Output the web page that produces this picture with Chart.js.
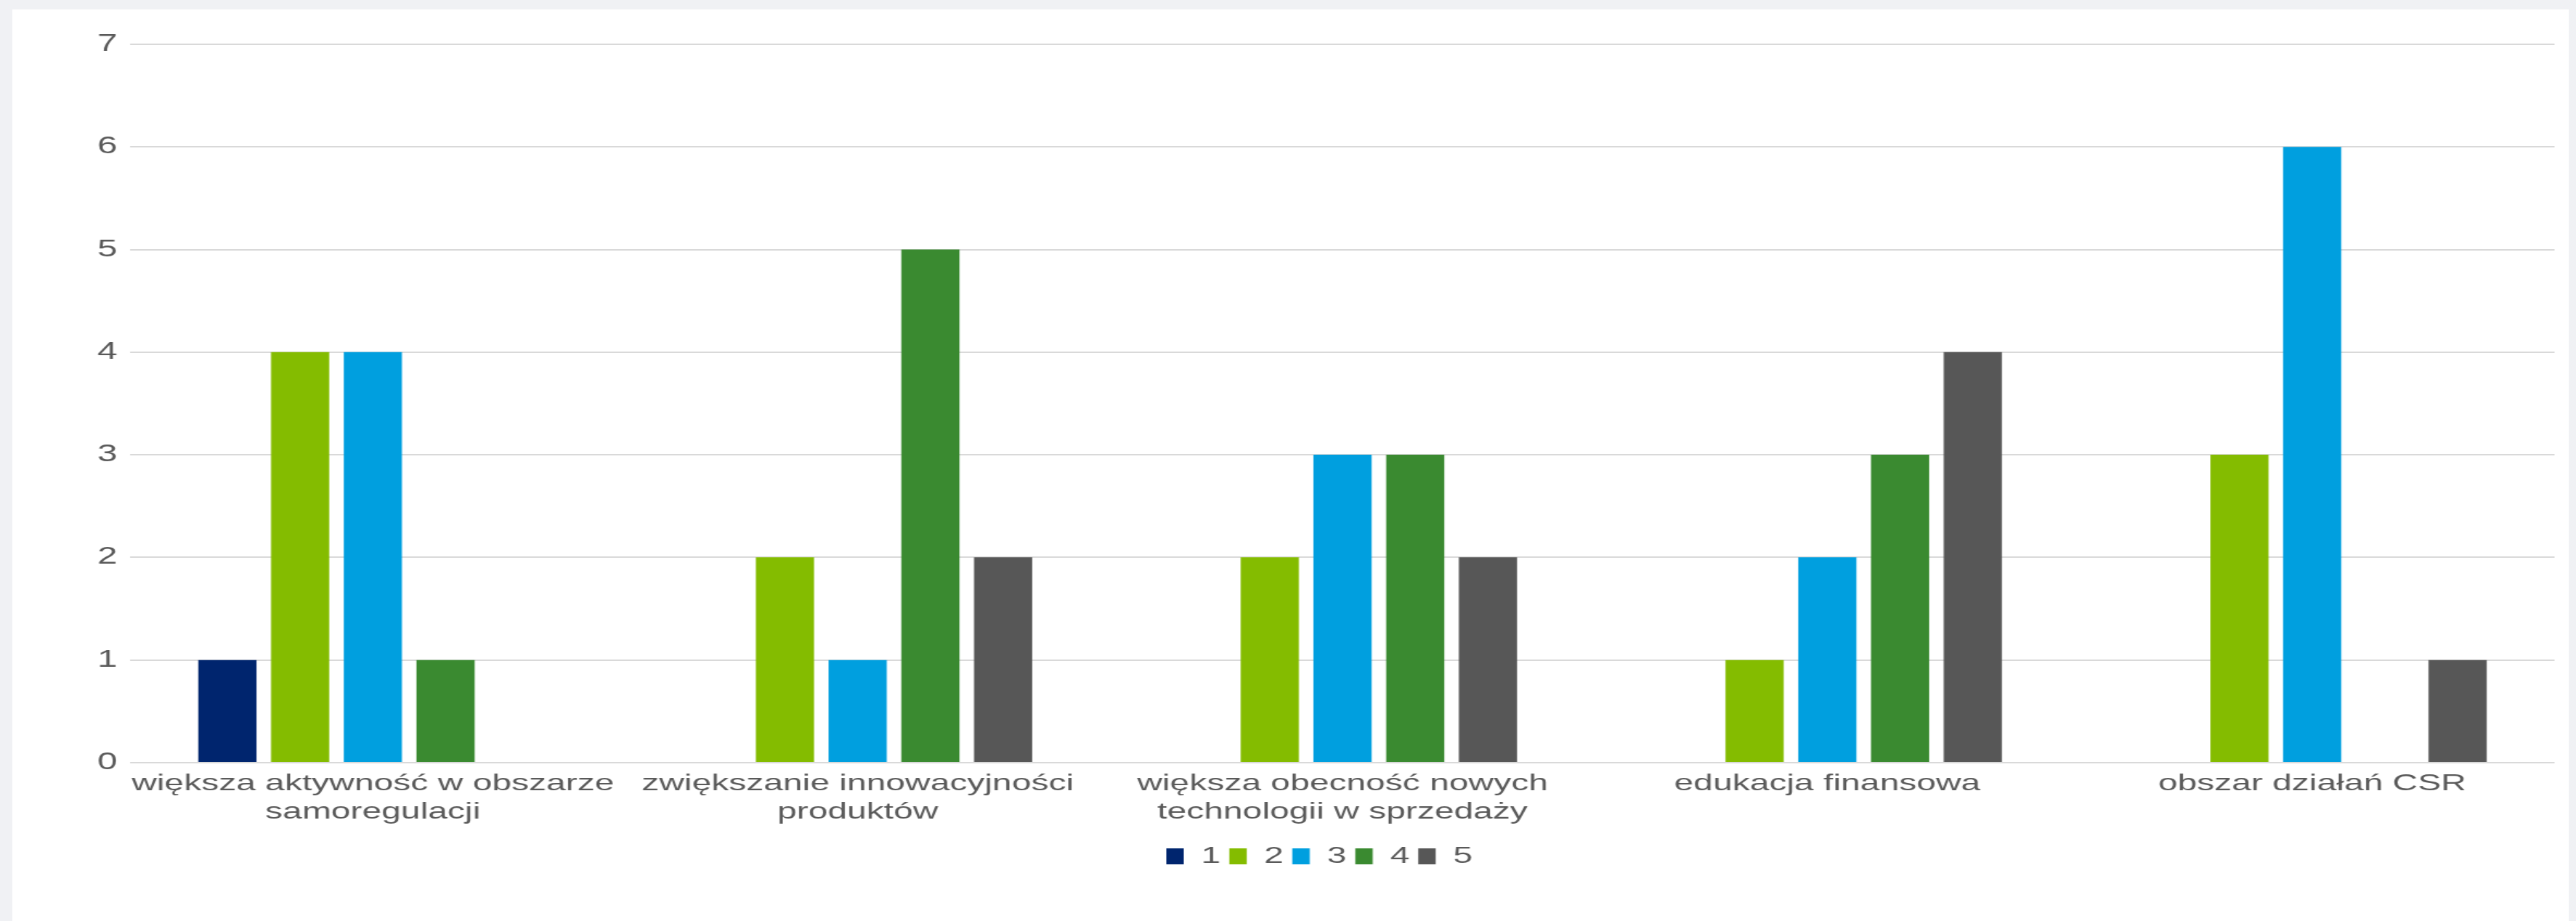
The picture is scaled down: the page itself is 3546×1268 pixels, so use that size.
<!DOCTYPE html>
<html lang="pl">
<head>
<meta charset="utf-8">
<title>Wykres</title>
<script src="https://cdn.jsdelivr.net/npm/chart.js@4.4.1/dist/chart.umd.min.js"></script>
<style>
  html, body {
    margin: 0;
    padding: 0;
    background: #f0f1f4;
    width: 3546px;
    height: 1268px;
    overflow: hidden;
  }
  .card {
    position: absolute;
    left: 17px;
    top: 13px;
    width: 3519px;
    height: 1255px;
    background: #ffffff;
    overflow: hidden;
  }
  /* the source picture is stretched sideways, so the chart is drawn narrow and widened */
  #ChartAreas {
    transform: scaleX(1.5);
    transform-origin: 0 0;
  }
</style>
</head>
<body>
<div class="card">
  <canvas id="ChartAreas" width="2346" height="1255"></canvas>
</div>

<script>
// Data
const categories = [
  ["większa aktywność w obszarze", "samoregulacji"],
  ["zwiększanie innowacyjności", "produktów"],
  ["większa obecność nowych", "technologii w sprzedaży"],
  "edukacja finansowa",
  "obszar działań CSR",
];
const seriesNames = ["1", "2", "3", "4", "5"];
const values1 = [1, 0, 0, 0, 0];
const values2 = [4, 2, 2, 1, 3];
const values3 = [4, 1, 3, 2, 6];
const values4 = [1, 5, 3, 3, 0];
const values5 = [0, 2, 2, 4, 1];
const yTicks = [0, 1, 2, 3, 4, 5, 6, 7];

const colors = ["#00256e", "#84bc00", "#009fdf", "#3a8a30", "#575757"];
const allValues = [values1, values2, values3, values4, values5];

const fontFamily = "'Liberation Sans', Arial, sans-serif";
const textColor = "#595959";

// Chart
const ChartAreas = document.getElementById("ChartAreas");

new Chart(ChartAreas, {
  type: "bar",
  data: {
    labels: categories,
    datasets: seriesNames.map((name, i) => ({
      label: name,
      data: allValues[i],
      backgroundColor: colors[i],
      borderWidth: 0,
      categoryPercentage: 0.75,
      barPercentage: 0.8,
    })),
  },
  options: {
    responsive: false,
    animation: false,
    layout: {
      padding: { top: 48, left: 66, right: 13, bottom: 63 },
    },
    plugins: {
      tooltip: { enabled: false },
      title: { display: false },
      legend: {
        position: "bottom",
        labels: {
          color: textColor,
          font: { family: fontFamily, size: 32 },
          boxWidth: 16,
          boxHeight: 22,
          padding: 8,
        },
      },
    },
    scales: {
      x: {
        grid: { display: false, drawTicks: false },
        border: { display: false },
        ticks: {
          color: textColor,
          font: { family: fontFamily, size: 32, lineHeight: 1.22 },
          padding: 10,
          maxRotation: 0,
          autoSkip: false,
        },
        afterFit: (scale) => {
          scale.height += 7;
        },
      },
      y: {
        min: 0,
        max: 7,
        afterBuildTicks: (scale) => {
          scale.ticks = yTicks.map((v) => ({ value: v }));
        },
        grid: { color: "#d9d9d9", lineWidth: 2, drawTicks: false },
        border: { display: false },
        ticks: {
          color: textColor,
          font: { family: fontFamily, size: 33 },
          padding: 12,
        },
      },
    },
  },
});
// End chart
</script>
</body>
</html>
